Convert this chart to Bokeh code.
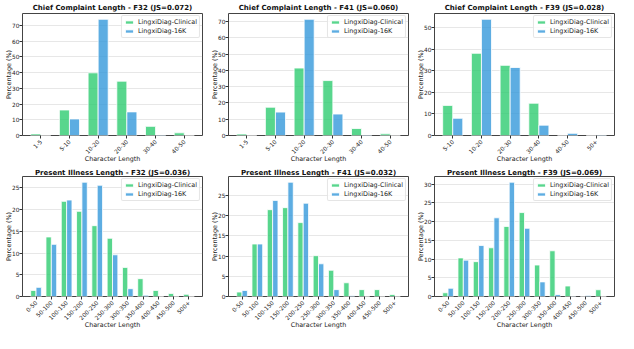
import numpy as np
from bokeh.plotting import figure
from bokeh.layouts import gridplot
from bokeh.models import Range1d, FixedTicker, SingleIntervalTicker, Legend, LegendItem, ColumnDataSource
from bokeh.transform import dodge
from bokeh.embed import file_html
from bokeh.resources import INLINE

SERIES = ["LingxiDiag-Clinical", "LingxiDiag-16K"]
COLORS = ["#2ecc71", "#3498db"]

cc_cats = ["1-5", "5-10", "10-20", "20-30", "30-40", "40-50"]
cc_cats_f39 = ["5-10", "10-20", "20-30", "30-40", "40-50", "50+"]
pi_cats = ["0-50", "50-100", "100-150", "150-200", "200-250", "250-300",
           "300-350", "350-400", "400-450", "450-500", "500+"]

cc_f32_clinical = [1.0, 16.2, 39.8, 34.5, 5.8, 1.7]
cc_f32_16k = [0.0, 10.5, 73.8, 15.0, 0.3, 0.0]
cc_f41_clinical = [0.9, 17.4, 41.5, 33.8, 4.3, 1.0]
cc_f41_16k = [0.0, 14.4, 71.5, 13.2, 0.3, 0.0]
cc_f39_clinical = [14.0, 38.2, 32.6, 15.0, 0.0, 0.0]
cc_f39_16k = [8.0, 54.0, 31.6, 4.8, 1.0, 0.2]

pi_f32_clinical = [1.4, 13.7, 21.9, 19.6, 16.3, 13.4, 6.7, 4.1, 1.4, 0.7, 0.5]
pi_f32_16k = [2.1, 12.0, 22.2, 26.3, 25.6, 9.6, 1.8, 0.3, 0.0, 0.0, 0.0]
pi_f41_clinical = [1.1, 13.0, 21.5, 22.0, 18.3, 10.1, 6.5, 3.4, 1.7, 1.7, 0.5]
pi_f41_16k = [1.5, 13.0, 23.8, 28.3, 23.1, 8.1, 1.7, 0.2, 0.0, 0.0, 0.0]
pi_f39_clinical = [1.0, 10.3, 9.3, 13.0, 18.7, 22.4, 8.4, 12.2, 2.8, 0.0, 1.8]
pi_f39_16k = [2.2, 9.7, 13.6, 21.0, 30.5, 18.2, 3.9, 0.5, 0.1, 0.3, 0.0]

panels = [
    ("Chief Complaint Length - F32 (JS=0.072)", cc_cats, cc_f32_clinical, cc_f32_16k, 10),
    ("Chief Complaint Length - F41 (JS=0.060)", cc_cats, cc_f41_clinical, cc_f41_16k, 10),
    ("Chief Complaint Length - F39 (JS=0.028)", cc_cats_f39, cc_f39_clinical, cc_f39_16k, 10),
    ("Present Illness Length - F32 (JS=0.036)", pi_cats, pi_f32_clinical, pi_f32_16k, 5),
    ("Present Illness Length - F41 (JS=0.032)", pi_cats, pi_f41_clinical, pi_f41_16k, 5),
    ("Present Illness Length - F39 (JS=0.069)", pi_cats, pi_f39_clinical, pi_f39_16k, 5),
]

FONT = "DejaVu Sans"
W, H = 206, 166
BAR_W = 0.35


def make_panel(idx, title, cats, clin, k16, interval):
    n = len(cats)
    xs = np.arange(n, dtype=float)
    lo = -BAR_W - 0.05 * (n - 1 + 2 * BAR_W)
    hi = n - 1 + BAR_W + 0.05 * (n - 1 + 2 * BAR_W)
    ymax = max(max(clin), max(k16)) * 1.05
    row = idx // 3
    p = figure(width=W, height=H, output_backend="svg", toolbar_location=None,
               x_range=Range1d(lo, hi), y_range=Range1d(0, ymax),
               min_border_left=22, min_border_right=4,
               min_border_top=13 if row == 0 else 10,
               min_border_bottom=31)
    p.title.text = title
    p.title.text_font = FONT
    p.title.text_font_size = "7px"
    p.title.text_font_style = "bold"
    p.title.text_color = "#111111"
    p.title.align = "center"
    p.title.standoff = 3 if row == 0 else -1
    p.title.offset = 0

    src = ColumnDataSource(dict(x=xs, clin=clin, k16=k16))
    r1 = p.vbar(x=dodge("x", -BAR_W / 2), top="clin", width=BAR_W, source=src,
                fill_color=COLORS[0], fill_alpha=0.8,
                line_color="white", line_width=0.8)
    r2 = p.vbar(x=dodge("x", BAR_W / 2), top="k16", width=BAR_W, source=src,
                fill_color=COLORS[1], fill_alpha=0.8,
                line_color="white", line_width=0.8)

    p.xaxis.ticker = FixedTicker(ticks=list(xs))
    p.xaxis.major_label_overrides = {float(i): c for i, c in enumerate(cats)}
    p.xaxis.major_label_orientation = np.pi / 4
    p.yaxis.ticker = SingleIntervalTicker(interval=interval)
    p.yaxis.axis_label = "Percentage (%)"
    p.xaxis.axis_label = "Character Length"
    for ax in (p.xaxis, p.yaxis):
        ax.axis_label_text_font = FONT
        ax.axis_label_text_font_size = "6.4px"
        ax.axis_label_text_font_style = "normal"
        ax.major_label_text_font = FONT
        ax.major_label_text_font_size = "5.8px"
        ax.major_tick_out = 3
        ax.major_tick_in = 0
        ax.minor_tick_out = 0
        ax.minor_tick_in = 0
        ax.axis_line_color = None
        ax.major_tick_line_color = "#333333"
        ax.major_label_text_color = "#222222"
        ax.axis_label_text_color = "#222222"
    p.yaxis.major_label_standoff = 0
    p.yaxis.axis_label_standoff = -4
    p.xaxis.major_label_standoff = 2
    p.xaxis.axis_label_standoff = -4
    p.xgrid.grid_line_color = None
    p.ygrid.grid_line_color = "#b0b0b0"
    p.ygrid.grid_line_alpha = 0.3
    p.outline_line_color = "#444444"
    p.outline_line_width = 1
    p.background_fill_color = "white"
    p.border_fill_color = "white"

    legend = Legend(items=[LegendItem(label=SERIES[0], renderers=[r1]),
                           LegendItem(label=SERIES[1], renderers=[r2])],
                    location="top_right")
    legend.label_text_font = FONT
    legend.label_text_font_size = "6.4px"
    legend.label_text_color = "#222222"
    legend.label_height = 7
    legend.glyph_height = 4
    legend.glyph_width = 10
    legend.spacing = 1
    legend.padding = 2
    legend.margin = 2
    legend.label_standoff = 4
    legend.border_line_color = "#cccccc"
    legend.border_radius = 2
    legend.background_fill_alpha = 0.8
    p.add_layout(legend)
    return p


figs = [make_panel(i, *pan) for i, pan in enumerate(panels)]
grid = gridplot([figs[0:3], figs[3:6]], toolbar_location=None)
open("out.html", "w").write(file_html(grid, INLINE))
